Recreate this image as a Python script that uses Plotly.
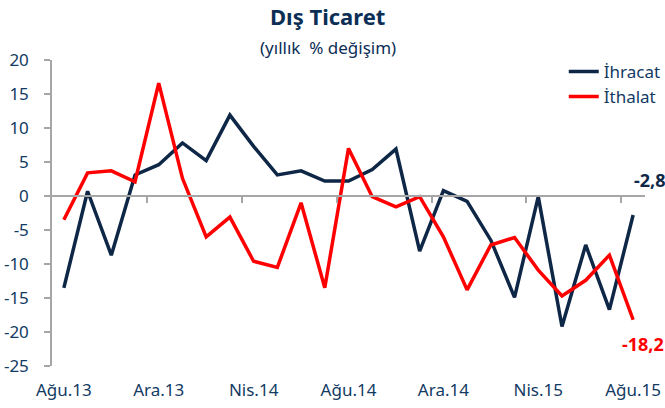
import plotly.graph_objects as go

months = ["Ağu.13","Eyl.13","Eki.13","Kas.13","Ara.13","Oca.14","Şub.14","Mar.14","Nis.14","May.14","Haz.14","Tem.14",
          "Ağu.14","Eyl.14","Eki.14","Kas.14","Ara.14","Oca.15","Şub.15","Mar.15","Nis.15","May.15","Haz.15","Tem.15","Ağu.15"]
ihracat = [-13.5, 0.7, -8.7, 3.1, 4.6, 7.8, 5.2, 11.9, 7.3, 3.1, 3.7, 2.2,
           2.2, 3.9, 6.9, -8.1, 0.8, -0.8, -6.5, -14.9, -0.1, -19.2, -7.2, -16.7, -2.8]
ithalat = [-3.5, 3.4, 3.7, 2.1, 16.6, 2.6, -6.0, -3.1, -9.6, -10.5, -1.0, -13.5,
           7.0, -0.1, -1.6, -0.1, -6.0, -13.8, -7.2, -6.1, -10.9, -14.7, -12.4, -8.7, -18.2]
label_idx = [0, 4, 8, 12, 16, 20, 24]
between_ticks = [3.5, 7.5, 11.5, 15.5, 19.5, 23.5]
y_ticks = [20, 15, 10, 5, 0, -5, -10, -15, -20, -25]
y_tick_labels = ["20", "15", "10", "5", "0", "-5", "-10", "-15", "-20", "-25"]
title_text = "Dış Ticaret"
subtitle_text = "(yıllık  % değişim)"

NAVY = "#0f2747"
RED = "#ff0000"
TXT = "#123a63"
FONT = "Noto Sans"

x = list(range(len(months)))
fig = go.Figure()
fig.add_trace(go.Scatter(x=x, y=ihracat, mode="lines", name="İhracat",
                         line=dict(color=NAVY, width=3.5)))
fig.add_trace(go.Scatter(x=x, y=ithalat, mode="lines", name="İthalat",
                         line=dict(color=RED, width=3.5)))
# helper trace for the crossing x axis at zero
fig.add_trace(go.Scatter(x=[x[0], x[-1]], y=[0, 0], xaxis="x2", mode="lines",
                         line=dict(width=0), showlegend=False, hoverinfo="skip"))

fig.update_layout(
    width=665, height=408,
    margin=dict(l=52, r=20, t=60, b=42, autoexpand=False),
    paper_bgcolor="white", plot_bgcolor="white",
    font=dict(family=FONT, color=TXT, size=16),
    showlegend=True,
    legend=dict(x=0.863, xanchor="left", y=1.02, yanchor="top",
                font=dict(family=FONT, size=17, color=TXT),
                bgcolor="rgba(0,0,0,0)", tracegroupgap=0, itemwidth=30),
    xaxis=dict(range=[-0.5, 24.5], tickmode="array", automargin=False,
               tickvals=label_idx, ticktext=[months[i] for i in label_idx],
               showline=False, showgrid=False, zeroline=False, ticks="",
               ticklabelstandoff=12,
               tickfont=dict(size=17, color=TXT), fixedrange=True),
    xaxis2=dict(range=[-0.5, 24.5], overlaying="x", anchor="free", automargin=False,
                position=25/45, showline=True, linecolor="#a6a6a6", linewidth=1.5,
                showgrid=False, zeroline=False, showticklabels=False,
                tickmode="array", tickvals=between_ticks, ticks="outside",
                ticklen=6, tickcolor="#a6a6a6", tickwidth=1.5),
    yaxis=dict(range=[-25, 20], tickmode="array", tickvals=y_ticks, ticktext=y_tick_labels,
               showgrid=False, zeroline=False, automargin=False,
               showline=True, linecolor="#a6a6a6", linewidth=1.5,
               ticks="outside", ticklen=6, tickcolor="#a6a6a6", tickwidth=1.5,
               tickfont=dict(size=17, color=TXT), ticklabelstandoff=12),
)

fig.add_annotation(xref="paper", yref="paper", x=0.4646, y=1.144, text="<b>" + title_text + "</b>",
                   showarrow=False, xanchor="center", yanchor="middle",
                   font=dict(family=FONT, size=22, color="#0b2e55"))
fig.add_annotation(xref="paper", yref="paper", x=0.4646, y=1.041, text=subtitle_text,
                   showarrow=False, xanchor="center", yanchor="middle",
                   font=dict(family=FONT, size=17, color="#0b2e55"))

fig.add_annotation(x=x[-1], y=ihracat[-1], text="<b>" + f"{ihracat[-1]:.1f}".replace(".", ",") + "</b>",
                   showarrow=False, xanchor="left", yanchor="middle", xshift=-1, yshift=35,
                   font=dict(family=FONT, size=18, color=NAVY))
fig.add_annotation(x=x[-1], y=ithalat[-1], text="<b>" + f"{ithalat[-1]:.1f}".replace(".", ",") + "</b>",
                   showarrow=False, xanchor="left", yanchor="middle", xshift=-13, yshift=-24,
                   font=dict(family=FONT, size=18, color=RED))

fig.write_html("out.html", config={"displayModeBar": False},
               post_script="document.body.style.margin='0';")
